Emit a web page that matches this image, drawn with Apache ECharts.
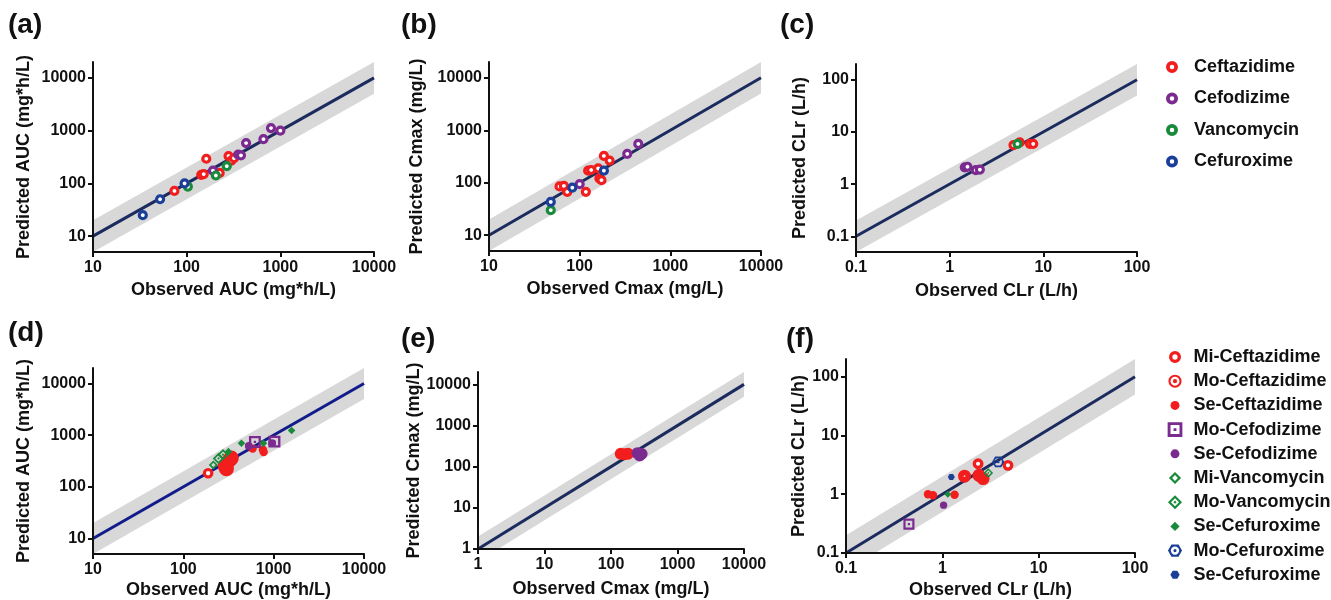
<!DOCTYPE html>
<html>
<head>
<meta charset="utf-8">
<script src="https://cdn.jsdelivr.net/npm/echarts@6/dist/echarts.min.js"></script>
<style>
  html, body { margin: 0; padding: 0; background: #fff; }
  #chart { width: 1331px; height: 600px; }
</style>
</head>
<body>
<div id="chart"></div>
<script>
// ---- data (observed, predicted) ----
// (a) AUC
const aCeftazidime = [[74, 72], [143, 145], [152, 150], [162, 293], [225, 158], [280, 330], [300, 270], [320, 300]];
const aCefodizime = [[191, 175], [355, 350], [380, 340], [431, 582], [660, 690], [795, 1120], [1000, 1000]];
const aVancomycin = [[103, 87], [205, 141], [268, 213]];
const aCefuroxime = [[34, 25], [52, 50], [95, 100]];
// (b) Cmax
const bCeftazidime = [[60, 85], [67, 87], [73, 67], [117, 67], [124, 170], [134, 175], [160, 188], [165, 121], [174, 112], [185, 324], [214, 265]];
const bCefodizime = [[100, 94], [335, 355], [443, 550]];
const bVancomycin = [[48, 30]];
const bCefuroxime = [[48, 43], [83, 81], [185, 170]];
// (c) CLr
const cCeftazidime = [[4.8, 5.6], [5.6, 6.3], [7.2, 5.9], [7.8, 5.9]];
const cCefodizime = [[1.45, 2.1], [1.55, 2.15], [1.9, 1.85], [2.1, 1.9]];
const cVancomycin = [[5.3, 5.9]];
// (d) AUC by severity
const dMiCeftazidime = [[188, 183]];
const dMoCeftazidime = [[290, 255], [300, 225], [325, 330], [340, 360]];
const dSeCeftazidime = [[585, 550], [760, 525], [775, 470]];
const dMoCefodizime = [[620, 740], [1020, 750]];
const dSeCefodizime = [[530, 620], [960, 700]];
const dMiVancomycin = [[215, 265]];
const dMoVancomycin = [[245, 355], [275, 420]];
const dSeVancomycin = [[316, 480], [440, 700], [770, 700], [1580, 1230]];
// (e) Cmax by severity
const eMoCeftazidime = [[140, 205], [160, 200], [180, 205]];
const eSeCefodizime = [[250, 215], [270, 185], [290, 205]];
// (f) CLr by severity
const fMiCeftazidime = [[2.35, 3.3], [4.8, 3.1]];
const fMoCeftazidime = [[1.7, 2.03], [2.4, 2.1], [2.65, 1.85]];
const fSeCeftazidime = [[0.71, 1.0], [0.8, 0.96], [1.34, 0.98]];
const fMoCefodizime = [[0.45, 0.31]];
const fSeCefodizime = [[1.03, 0.65]];
const fMoVancomycin = [[3.0, 2.3]];
const fSeVancomycin = [[1.14, 1.0]];
const fMoCefuroxime = [[3.8, 3.55]];
const fSeCefuroxime = [[1.24, 1.97]];

// axis ranges and ticks
const panelX = [[10, 10000], [10, 10000], [0.1, 100], [10, 10000], [1, 10000], [0.1, 100]];
const panelY = [[5, 20000], [5, 20000], [0.05, 200], [5, 20000], [1, 20000], [0.1, 200]];
const ticksBig = [10, 100, 1000, 10000];
const ticksCl = [0.1, 1, 10, 100];
const ticksE = [1, 10, 100, 1000, 10000];
const fold = 2;

const titles = ['(a)', '(b)', '(c)', '(d)', '(e)', '(f)'];
const xNames = ['Observed AUC (mg*h/L)', 'Observed Cmax (mg/L)', 'Observed CLr (L/h)',
                'Observed AUC (mg*h/L)', 'Observed Cmax (mg/L)', 'Observed CLr (L/h)'];
const yNames = ['Predicted AUC (mg*h/L)', 'Predicted Cmax (mg/L)', 'Predicted CLr (L/h)',
                'Predicted AUC (mg*h/L)', 'Predicted Cmax (mg/L)', 'Predicted CLr (L/h)'];
const legendTop = ['Ceftazidime', 'Cefodizime', 'Vancomycin', 'Cefuroxime'];
const legendBottom = ['Mi-Ceftazidime', 'Mo-Ceftazidime', 'Se-Ceftazidime', 'Mo-Cefodizime', 'Se-Cefodizime',
                      'Mi-Vancomycin', 'Mo-Vancomycin', 'Se-Cefuroxime', 'Mo-Cefuroxime', 'Se-Cefuroxime '];

// ---- layout / style ----
const RED = '#f21d1d', PURPLE = '#7b2a90', GREEN = '#188a3a', BLUE = '#1b3f98';
const BAND = '#d8d8d8', LINE = '#1c2b5e', LINE_D = '#111c8a', INK = '#111';
const FONT = 'Liberation Sans';

const grids = [
  { left: 93, top: 62, width: 281, height: 190 },
  { left: 489, top: 62, width: 272, height: 189 },
  { left: 856, top: 64, width: 281, height: 188 },
  { left: 93, top: 368, width: 271, height: 186 },
  { left: 478, top: 372, width: 266, height: 177 },
  { left: 846, top: 359, width: 289, height: 194 }
];
const xGap = [29, 29, 30, 27, 31, 28];
const yGap = [60, 63, 47, 60, 52, 37];
const titlePos = [[3, 6], [396, 6], [775, 6], [3, 314], [396, 320], [781, 320]];

// symbol paths in a 20x20 box
const BOX = 'M0,0M20,20';
function circ(r, ccw) {
  const a = 10 - r, b = 10 + r, s = ccw ? 0 : 1;
  return `M10,${a}A${r},${r},0,1,${s},10,${b}A${r},${r},0,1,${s},10,${a}Z`;
}
function poly(pts, ccw) {
  if (ccw) pts = pts.slice().reverse();
  return 'M' + pts.map(p => p.map(v => +v.toFixed(2)).join(',')).join('L') + 'Z';
}
const sq = h => [[10 - h, 10 - h], [10 + h, 10 - h], [10 + h, 10 + h], [10 - h, 10 + h]];
const dia = h => [[10, 10 - h], [10 + h, 10], [10, 10 + h], [10 - h, 10]];
const hex = r => [0, 60, 120, 180, 240, 300].map(a => [10 + r * Math.cos(a * Math.PI / 180), 10 + r * Math.sin(a * Math.PI / 180)]);

const RING_C = 'path://' + circ(10) + circ(3.8, true);
const MI_RING = 'path://' + BOX + circ(7.5) + circ(3.3, true);
const MO_TARGET = 'path://' + BOX + circ(8.2) + circ(5.6, true) + circ(2.6);
const MO_FILLED = 'path://' + circ(10) + circ(1.4, true);
const SE_DOT = 'path://' + BOX + circ(5.6);
const MO_SQUARE = 'path://' + BOX + poly(sq(9.2)) + poly(sq(5.6), true) + poly(sq(1.8));
const MI_DIAMOND = 'path://' + BOX + poly(dia(7.6)) + poly(dia(3.6), true);
const MO_DIAMOND = 'path://' + BOX + poly(dia(8.8)) + poly(dia(5), true) + poly(dia(2));
const SE_DIAMOND = 'path://' + BOX + poly(dia(5.8));
const MO_HEX = 'path://' + BOX + poly(hex(8.8)) + circ(5.2, true) + circ(2);
const SE_HEX = 'path://' + BOX + poly(hex(5.8));

const bottomIcons = [MI_RING, MO_TARGET, SE_DOT, MO_SQUARE, SE_DOT, MI_DIAMOND, MO_DIAMOND, SE_DIAMOND, MO_HEX, SE_HEX];
const bottomColors = [RED, RED, RED, PURPLE, PURPLE, GREEN, GREEN, GREEN, BLUE, BLUE];
const topColors = [RED, PURPLE, GREEN, BLUE];

const labelStyle = { fontSize: 16, fontWeight: 'bold', color: INK, fontFamily: FONT };
const nameStyle = { fontSize: 18, fontWeight: 'bold', color: INK, fontFamily: FONT };

function makeAxis(i, dim) {
  const range = dim === 'x' ? panelX[i] : panelY[i];
  let ticks = ticksBig;
  if (i === 2 || i === 5) ticks = ticksCl;
  if (i === 4) ticks = ticksE;
  return {
    type: 'log', logBase: 10, gridIndex: i, min: range[0], max: range[1], z: 10,
    name: dim === 'x' ? xNames[i] : yNames[i],
    nameLocation: 'middle',
    nameGap: dim === 'x' ? xGap[i] : yGap[i],
    nameTextStyle: nameStyle,
    axisLine: { show: true, onZero: false, lineStyle: { color: INK, width: 2 } },
    axisTick: { show: true, customValues: ticks, length: 5, lineStyle: { color: INK, width: 2 } },
    axisLabel: { customValues: ticks, margin: dim === 'x' ? 8 : 7, formatter: v => String(v), ...labelStyle },
    splitLine: { show: false },
    minorTick: { show: false }
  };
}

function band(i) {
  const [x0, x1] = panelX[i], [y0, y1] = panelY[i];
  return {
    type: 'custom', xAxisIndex: i, yAxisIndex: i, clip: true, silent: true, z: 1,
    data: [[x0, x0]],
    renderItem: (params, api) => {
      const pts = [[x0, Math.max(x0 / fold, y0)]];
      if (x0 / fold < y0) pts.push([y0 * fold, y0]);
      pts.push([x1, Math.max(x1 / fold, y0)]);
      pts.push([x1, Math.min(x1 * fold, y1)]);
      if (x1 * fold > y1) pts.push([y1 / fold, y1]);
      pts.push([x0, Math.min(x0 * fold, y1)]);
      return { type: 'polygon', shape: { points: pts.map(p => api.coord(p)) }, style: { fill: BAND } };
    }
  };
}

function identity(i) {
  const [x0, x1] = panelX[i];
  return {
    type: 'line', xAxisIndex: i, yAxisIndex: i, silent: true, z: 2,
    data: [[x0, x0], [x1, x1]], symbol: 'none',
    lineStyle: { color: i === 3 ? LINE_D : LINE, width: 3 }
  };
}

function ring(name, data, i, color, size, bw) {
  return {
    type: 'scatter', name, data, xAxisIndex: i, yAxisIndex: i, z: 4,
    symbol: 'circle', symbolSize: size || 7,
    itemStyle: { color: '#fff', borderColor: color, borderWidth: bw || 3.2, opacity: 1 },
    emphasis: { disabled: true }
  };
}
function mark(name, data, i, symbol, size, color) {
  return {
    type: 'scatter', name, data, xAxisIndex: i, yAxisIndex: i, z: 4,
    symbol, symbolSize: size, itemStyle: { color, opacity: 1 },
    emphasis: { disabled: true }
  };
}

const series = [];
for (let i = 0; i < 6; i++) { series.push(band(i), identity(i)); }
series.push(
  ring('Ceftazidime', aCeftazidime, 0, RED), ring('Cefodizime', aCefodizime, 0, PURPLE),
  ring('Vancomycin', aVancomycin, 0, GREEN), ring('Cefuroxime', aCefuroxime, 0, BLUE),
  ring('Ceftazidime', bCeftazidime, 1, RED), ring('Cefodizime', bCefodizime, 1, PURPLE),
  ring('Vancomycin', bVancomycin, 1, GREEN), ring('Cefuroxime', bCefuroxime, 1, BLUE),
  ring('Ceftazidime', cCeftazidime, 2, RED), ring('Cefodizime', cCefodizime, 2, PURPLE),
  ring('Vancomycin', cVancomycin, 2, GREEN),

  ring('Mi-Ceftazidime', dMiCeftazidime, 3, RED, 7.5, 3.2),
  mark('Mo-Ceftazidime', dMoCeftazidime, 3, MO_FILLED, 15, RED),
  mark('Se-Ceftazidime', dSeCeftazidime, 3, SE_DOT, 15, RED),
  mark('Mo-Cefodizime', dMoCefodizime, 3, MO_SQUARE, 13, PURPLE),
  mark('Se-Cefodizime', dSeCefodizime, 3, SE_DOT, 14, PURPLE),
  mark('Mi-Vancomycin', dMiVancomycin, 3, MI_DIAMOND, 12, GREEN),
  mark('Mo-Vancomycin', dMoVancomycin, 3, MO_DIAMOND, 13, GREEN),
  mark('Se-Cefuroxime', dSeVancomycin, 3, SE_DIAMOND, 13, GREEN),

  mark('Mo-Ceftazidime', eMoCeftazidime, 4, MO_FILLED, 12, RED),
  mark('Se-Cefodizime', eSeCefodizime, 4, SE_DOT, 21, PURPLE),

  ring('Mi-Ceftazidime', fMiCeftazidime, 5, RED, 7.5, 3.4),
  mark('Mo-Ceftazidime', fMoCeftazidime, 5, MO_FILLED, 13, RED),
  mark('Se-Ceftazidime', fSeCeftazidime, 5, SE_DOT, 15, RED),
  mark('Mo-Cefodizime', fMoCefodizime, 5, MO_SQUARE, 12, PURPLE),
  mark('Se-Cefodizime', fSeCefodizime, 5, SE_DOT, 13, PURPLE),
  mark('Mo-Vancomycin', fMoVancomycin, 5, MO_DIAMOND, 11, GREEN),
  mark('Se-Cefuroxime', fSeVancomycin, 5, SE_DIAMOND, 12, GREEN),
  mark('Mo-Cefuroxime', fMoCefuroxime, 5, MO_HEX, 14, BLUE),
  mark('Se-Cefuroxime ', fSeCefuroxime, 5, SE_HEX, 12, BLUE)
);

const legendText = { fontSize: 18, fontWeight: 'bold', color: INK, fontFamily: FONT };

const option = {
  animation: false,
  backgroundColor: '#fff',
  textStyle: { fontFamily: FONT },
  title: titles.map((t, i) => ({
    text: t, left: titlePos[i][0], top: titlePos[i][1],
    textStyle: { fontSize: 28, fontWeight: 'bold', color: INK, fontFamily: FONT }
  })),
  grid: grids,
  xAxis: grids.map((g, i) => makeAxis(i, 'x')),
  yAxis: grids.map((g, i) => makeAxis(i, 'y')),
  legend: [
    {
      orient: 'vertical', left: 1161, top: 53, itemWidth: 34, itemHeight: 12, itemGap: 13.5,
      selectedMode: false, textStyle: legendText,
      data: legendTop.map((n, k) => ({ name: n, icon: RING_C, itemStyle: { color: topColors[k], borderWidth: 0 } }))
    },
    {
      orient: 'vertical', left: 1162, top: 343, itemWidth: 27, itemHeight: 16, itemGap: 6.2,
      selectedMode: false, textStyle: legendText, formatter: n => n.trim(),
      data: legendBottom.map((n, k) => ({ name: n, icon: bottomIcons[k], itemStyle: { color: bottomColors[k], borderWidth: 0 } }))
    }
  ],
  series
};

const chart = echarts.init(document.getElementById('chart'));
chart.setOption(option);
</script>
</body>
</html>
